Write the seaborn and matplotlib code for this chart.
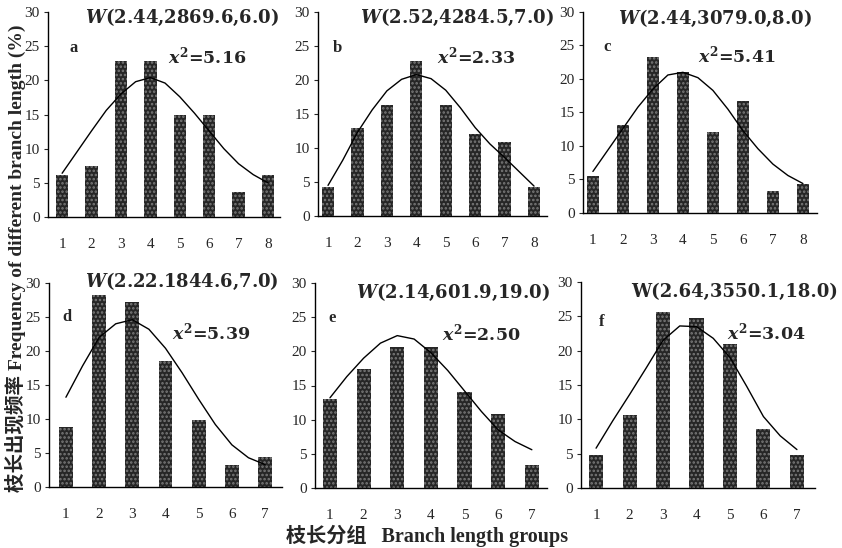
import matplotlib.pyplot as plt
import seaborn as sns
import pandas as pd

# Branch length groups
groups_top = [1, 2, 3, 4, 5, 6, 7, 8]
groups_bottom = [1, 2, 3, 4, 5, 6, 7]

# observed frequency (%) per group
bars_a = [6.2, 7.5, 22.8, 22.8, 15.0, 15.0, 3.7, 6.2]
bars_b = [4.3, 13.0, 16.3, 22.8, 16.3, 12.0, 10.9, 4.3]
bars_c = [5.5, 13.2, 23.3, 21.0, 12.1, 16.7, 3.3, 4.4]
bars_d = [8.8, 28.3, 27.2, 18.5, 9.8, 3.3, 4.4]
bars_e = [13.0, 17.4, 20.6, 20.6, 14.1, 10.9, 3.3]
bars_f = [4.8, 10.6, 25.7, 24.7, 21.0, 8.6, 4.8]

# fitted Weibull curve, read every half group
curve_x_top = [1, 1.5, 2, 2.5, 3, 3.5, 4, 4.5, 5, 5.5, 6, 6.5, 7, 7.5, 8]
curve_x_bottom = [1, 1.5, 2, 2.5, 3, 3.5, 4, 4.5, 5, 5.5, 6, 6.5, 7]
curve_a = [6.4, 9.5, 12.6, 15.6, 18.0, 19.8, 20.4, 19.6, 17.6, 15.2, 12.6, 10.0, 7.8, 6.2, 5.0]
curve_b = [4.5, 8.2, 12.3, 15.6, 18.4, 20.1, 20.8, 20.2, 18.5, 15.9, 13.0, 10.6, 8.6, 6.5, 4.4]
curve_c = [6.2, 9.4, 12.6, 15.8, 18.5, 20.6, 21.0, 20.2, 18.3, 15.5, 12.3, 9.6, 7.3, 5.6, 4.4]
curve_d = [13.2, 17.8, 22.0, 24.0, 24.6, 23.2, 20.4, 16.8, 12.9, 9.2, 6.2, 4.3, 3.3]
curve_e = [13.2, 16.3, 19.0, 21.2, 22.3, 21.8, 19.8, 17.2, 14.2, 11.2, 8.5, 6.8, 5.6]
curve_f = [5.8, 9.8, 13.6, 17.5, 21.5, 23.6, 23.5, 21.8, 19.0, 14.8, 10.4, 7.6, 5.6]

labels = ['a', 'b', 'c', 'd', 'e', 'f']
weibull_text = [r'$W$(2.44,2869.6,6.0)', r'$W$(2.52,4284.5,7.0)', r'$W$(2.44,3079.0,8.0)',
                r'$W$(2.22.1844.6,7.0)', r'$W$(2.14,601.9,19.0)', 'W(2.64,3550.1,18.0)']
chi_text = [r'$x^2$=5.16', r'$x^2$=2.33', r'$x^2$=5.41',
            r'$x^2$=5.39', r'$x^2$=2.50', r'$x^2$=3.04']

sns.set_style('white')
plt.rcParams['font.family'] = ['Liberation Serif', 'DejaVu Serif']
plt.rcParams['mathtext.fontset'] = 'custom'
plt.rcParams['mathtext.it'] = 'DejaVu Serif:italic:bold'
plt.rcParams['mathtext.rm'] = 'DejaVu Serif:bold'
plt.rcParams['hatch.linewidth'] = 1.2

W, H = 842, 548
fig = plt.figure(figsize=(W / 100, H / 100), dpi=100)


def px(x, y):
    return x / W, 1 - y / H


# pixel boxes (left, top, right, bottom), x limits, text anchors
panels = [
    dict(box=(48, 12, 280, 217), xlim=(0.52, 8.41), g=groups_top, bars=bars_a, cx=curve_x_top, cy=curve_a,
         lab=(74, 48), w=(182, 17), chi=(168, 56)),
    dict(box=(318, 12, 547, 216), xlim=(0.66, 8.44), g=groups_top, bars=bars_b, cx=curve_x_top, cy=curve_b,
         lab=(337, 48), w=(457, 17), chi=(437, 56)),
    dict(box=(583, 12, 817, 213), xlim=(0.67, 8.47), g=groups_top, bars=bars_c, cx=curve_x_top, cy=curve_c,
         lab=(607, 47), w=(715, 18), chi=(698, 55)),
    dict(box=(49, 283, 282, 487), xlim=(0.49, 7.51), g=groups_bottom, bars=bars_d, cx=curve_x_bottom, cy=curve_d,
         lab=(67, 317), w=(182, 281), chi=(172, 332)),
    dict(box=(315, 283, 547, 488), xlim=(0.555, 7.45), g=groups_bottom, bars=bars_e, cx=curve_x_bottom, cy=curve_e,
         lab=(332, 318), w=(453, 292), chi=(442, 333)),
    dict(box=(581, 282, 815, 488), xlim=(0.55, 7.54), g=groups_bottom, bars=bars_f, cx=curve_x_bottom, cy=curve_f,
         lab=(602, 322), w=(735, 292), chi=(727, 332)),
]

for i, p in enumerate(panels):
    l, t, r, b = p['box']
    ax = fig.add_axes([l / W, 1 - b / H, (r - l) / W, (b - t) / H])
    df = pd.DataFrame({'group': p['g'], 'freq': p['bars']})
    sns.barplot(data=df, x='group', y='freq', native_scale=True, width=0.42,
                color='#262626', saturation=1, ax=ax)
    for patch in ax.patches:
        patch.set_hatch('....')
        patch.set_edgecolor('#7a7a7a')
        patch.set_linewidth(0)
    curve = pd.DataFrame({'x': p['cx'], 'y': p['cy']})
    sns.lineplot(data=curve, x='x', y='y', color='black', linewidth=1.0, ax=ax)

    ax.set_xlim(*p['xlim'])
    ax.set_ylim(0, 30)
    ax.set_xticks(p['g'])
    ax.set_xticklabels([str(v) for v in p['g']])
    ax.set_yticks(range(0, 31, 5))
    ax.set_xlabel('')
    ax.set_ylabel('')
    sns.despine(ax=ax)
    for s in ['left', 'bottom']:
        ax.spines[s].set_color('black')
        ax.spines[s].set_linewidth(1.0)
    ax.tick_params(axis='y', direction='out', length=3, width=0.8, left=True, pad=3, labelsize=11)
    ax.tick_params(axis='x', length=0, pad=15, labelsize=11)

    fig.text(*px(*p['lab']), labels[i], ha='center', va='center', fontsize=12, fontweight='bold')
    fig.text(*px(*p['w']), weibull_text[i], ha='center', va='center', fontsize=13,
             fontweight='bold', family='DejaVu Serif')
    fig.text(*px(*p['chi']), chi_text[i], ha='left', va='center', fontsize=12.5,
             fontweight='bold', family='DejaVu Serif')

fig.text(*px(15, 258), '枝长出现频率 Frequency of different branch length (%)', rotation=90,
         ha='center', va='center', fontsize=14, fontweight='bold',
         family=['Liberation Serif', 'Noto Sans CJK SC'])
fig.text(*px(427, 536), '枝长分组   Branch length groups', ha='center', va='center',
         fontsize=14.5, fontweight='bold', family=['Liberation Serif', 'Noto Sans CJK SC'])

fig.savefig('out.png', dpi=100)
